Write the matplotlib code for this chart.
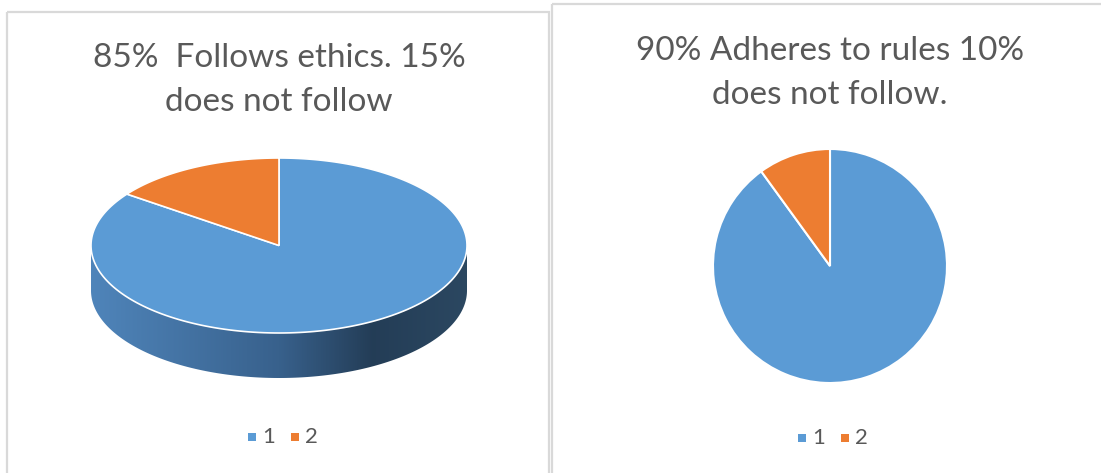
import numpy as np
import matplotlib.pyplot as plt
from matplotlib.patches import Polygon, Rectangle

# data
left_title = "85%  Follows ethics. 15%\ndoes not follow"
right_title = "90% Adheres to rules 10%\ndoes not follow."
categories = ["1", "2"]
left_values = [85, 15]
right_values = [90, 10]
colors = ["#5B9BD5", "#ED7D31"]

W, H = 1101, 473
plt.rcParams['font.family'] = ['Lato', 'DejaVu Sans']
fig = plt.figure(figsize=(W / 100, H / 100), dpi=100)
fig.patch.set_facecolor('white')

# full-figure axes in pixel coords
ax = fig.add_axes([0, 0, 1, 1])
ax.set_xlim(0, W)
ax.set_ylim(H, 0)
ax.axis('off')

# panel frames
ax.add_patch(Rectangle((7, 12), 542, 470, fill=False, ec='#d9d9d9', lw=1.6))
ax.add_patch(Rectangle((552, 4), 560, 470, fill=False, ec='#d9d9d9', lw=1.6))

# titles
ax.text(279, 80, left_title, ha='center', va='center', fontsize=24,
        color='#595959', linespacing=1.55)
ax.text(830, 73, right_title, ha='center', va='center', fontsize=24,
        color='#595959', linespacing=1.55)

# ---- left: 3D pie ----
cx, cy, rx, ry, depth = 279, 245.5, 188, 87.5, 45

def ell(t, dy=0):
    return cx + rx * np.cos(t), cy - ry * np.sin(t) + dy

# side wall (front half)
t = np.linspace(np.pi, 2 * np.pi, 200)
x1, y1 = ell(t)
x2, y2 = ell(t[::-1], depth)
side = Polygon(np.column_stack([np.r_[x1, x2], np.r_[y1, y2]]), closed=True,
               fc='none', ec='none')
ax.add_patch(side)
grad_x = np.linspace(0, 1, 256)
stops = [(0.0, (0.31, 0.52, 0.73)), (0.5, (0.22, 0.38, 0.55)),
         (0.75, (0.14, 0.24, 0.34)), (1.0, (0.17, 0.28, 0.38))]
sx = [s[0] for s in stops]
rgb = np.array([[np.interp(g, sx, [s[1][k] for s in stops]) for k in range(3)]
                for g in grad_x])
img = ax.imshow(rgb[np.newaxis, :, :], extent=(cx - rx, cx + rx, cy + ry + depth, cy),
                aspect='auto', zorder=1)
img.set_clip_path(side)
ax.set_xlim(0, W)
ax.set_ylim(H, 0)

# top face wedges
fracs = np.array(left_values) / sum(left_values)
start = np.pi / 2
for frac, c in zip(fracs, colors):
    end = start - frac * 2 * np.pi
    tt = np.linspace(start, end, 200)
    xs, ys = ell(tt)
    pts = np.column_stack([np.r_[cx, xs], np.r_[cy, ys]])
    ax.add_patch(Polygon(pts, closed=True, fc=c, ec='white', lw=1.2, zorder=2))
    start = end

# legends
def legend(x0, y0):
    for i, (lab, c) in enumerate(zip(categories, colors)):
        xx = x0 + i * 43
        ax.add_patch(Rectangle((xx, y0 - 4), 8, 8, fc=c, ec='none'))
        ax.text(xx + 14, y0, lab, va='center', ha='left', fontsize=16, color='#595959')

legend(248, 437)
legend(798, 438)

# ---- right: 2D pie ----
pcx, pcy, pr = 830, 266, 117
ax2 = fig.add_axes([(pcx - pr) / W, 1 - (pcy + pr) / H, 2 * pr / W, 2 * pr / H])
ax2.pie(right_values, colors=colors, startangle=90, counterclock=False,
        wedgeprops=dict(edgecolor='white', linewidth=1.5))
ax2.set_xlim(-1, 1)
ax2.set_ylim(-1, 1)
ax2.axis('off')

fig.savefig('out.png', dpi=100, facecolor='white')
